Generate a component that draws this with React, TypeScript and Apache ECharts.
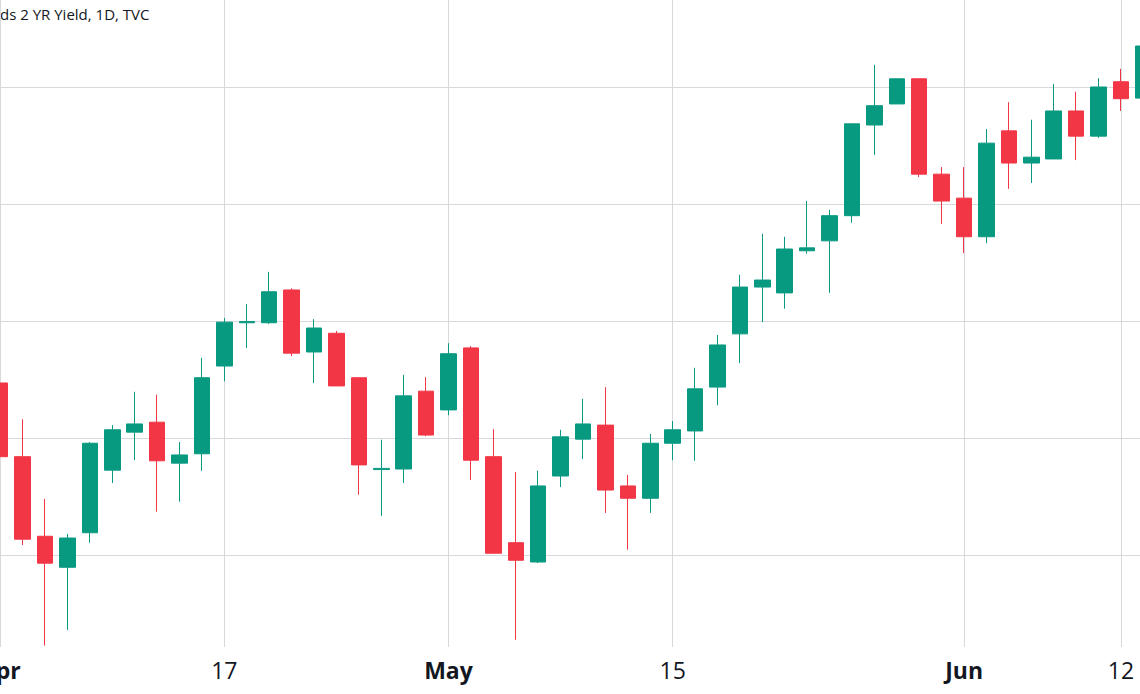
import React, { useEffect, useRef } from "react";
import * as echarts from "echarts";

const dates = [
  "2023-04-03", "2023-04-04", "2023-04-05", "2023-04-06", "2023-04-07",
  "2023-04-10", "2023-04-11", "2023-04-12", "2023-04-13", "2023-04-14",
  "2023-04-17", "2023-04-18", "2023-04-19", "2023-04-20", "2023-04-21",
  "2023-04-24", "2023-04-25", "2023-04-26", "2023-04-27", "2023-04-28",
  "2023-05-01", "2023-05-02", "2023-05-03", "2023-05-04", "2023-05-05",
  "2023-05-08", "2023-05-09", "2023-05-10", "2023-05-11", "2023-05-12",
  "2023-05-15", "2023-05-16", "2023-05-17", "2023-05-18", "2023-05-19",
  "2023-05-22", "2023-05-23", "2023-05-24", "2023-05-25", "2023-05-26",
  "2023-05-29", "2023-05-30", "2023-05-31", "2023-06-01", "2023-06-02",
  "2023-06-05", "2023-06-06", "2023-06-07", "2023-06-08", "2023-06-09",
  "2023-06-12", "2023-06-13",
];

const open = [
  4.094, 3.968, 3.832, 3.779, 3.838, 3.945, 4.010, 4.027, 3.957, 3.973,
  4.123, 4.197, 4.197, 4.253, 4.147, 4.179, 4.103, 3.946, 3.947, 4.080,
  4.048, 4.154, 3.968, 3.821, 3.788, 3.935, 3.998, 4.022, 3.918, 3.897,
  3.991, 4.012, 4.087, 4.178, 4.258, 4.248, 4.320, 4.337, 4.380, 4.535,
  4.571, 4.614, 4.451, 4.410, 4.344, 4.525, 4.470, 4.477, 4.559, 4.516,
  4.609, 4.581,
];

const close = [
  3.968, 3.827, 3.786, 3.829, 3.991, 4.014, 4.024, 3.961, 3.971, 4.103,
  4.198, 4.199, 4.250, 4.145, 4.188, 4.089, 3.954, 3.948, 4.072, 4.005,
  4.144, 3.962, 3.803, 3.791, 3.918, 4.002, 4.024, 3.911, 3.897, 3.991,
  4.014, 4.084, 4.159, 4.258, 4.270, 4.323, 4.325, 4.380, 4.537, 4.568,
  4.614, 4.451, 4.405, 4.344, 4.504, 4.470, 4.480, 4.559, 4.516, 4.600,
  4.580, 4.670,
];

const low = [
  3.962, 3.817, 3.645, 3.672, 3.821, 3.923, 3.962, 3.874, 3.891, 3.944,
  4.097, 4.154, 4.195, 4.140, 4.094, 4.089, 3.903, 3.867, 3.923, 4.003,
  4.039, 3.928, 3.803, 3.655, 3.786, 3.916, 3.964, 3.872, 3.809, 3.872,
  3.962, 3.961, 4.056, 4.128, 4.198, 4.221, 4.315, 4.248, 4.368, 4.484,
  4.571, 4.446, 4.366, 4.316, 4.333, 4.426, 4.436, 4.477, 4.475, 4.513,
  4.559, 4.578,
];

const high = [
  4.138, 4.032, 3.896, 3.836, 3.993, 4.022, 4.079, 4.074, 3.993, 4.137,
  4.205, 4.229, 4.284, 4.256, 4.203, 4.183, 4.104, 3.997, 4.108, 4.104,
  4.162, 4.157, 4.015, 3.942, 3.944, 4.014, 4.067, 4.087, 3.937, 4.007,
  4.029, 4.120, 4.176, 4.279, 4.349, 4.344, 4.405, 4.390, 4.537, 4.638,
  4.614, 4.614, 4.463, 4.463, 4.528, 4.574, 4.544, 4.605, 4.592, 4.615,
  4.631, 4.673,
];

const tickDates = ["2023-04-03", "2023-04-17", "2023-05-01", "2023-05-15", "2023-06-01", "2023-06-12"];
const tickLabels = ["Apr", "17", "May", "15", "Jun", "12"];

const yMin = 3.6427;
const yMax = 4.7487;

const title = "ds 2 YR Yield, 1D, TVC";

const UP = "#089981";
const DOWN = "#F23645";
const GRID = "#d8d9dd";
const TEXT = "#131722";
const FONT = '"Open Sans", "Noto Sans", sans-serif';

export default function App() {
  const ref = useRef<HTMLDivElement>(null);

  useEffect(() => {
    document.body.style.margin = "0";
    document.body.style.overflow = "hidden";
    const chart = echarts.init(ref.current as HTMLDivElement, null, { renderer: "svg" });
    const data = dates.map((_, i) => [open[i], close[i], low[i], high[i]]);
    const isTick = (_i: number, v: string) => tickDates.includes(v);

    chart.setOption({
      animation: false,
      backgroundColor: "#ffffff",
      textStyle: { fontFamily: FONT },
      grid: {
        left: 0.2,
        right: -3.4,
        top: 0,
        bottom: 47,
        containLabel: false,
        outerBoundsMode: "none",
      },
      xAxis: {
        type: "category",
        data: dates,
        boundaryGap: false,
        axisLine: { show: false },
        axisTick: { show: false },
        axisLabel: {
          interval: isTick,
          margin: 11,
          formatter: (v: string) => {
            const t = tickLabels[tickDates.indexOf(v)] ?? "";
            return /\d/.test(t) ? `{n|${t}}` : `{b|${t}}`;
          },
          rich: {
            n: { fontSize: 23, color: TEXT, fontFamily: FONT, fontWeight: "normal" },
            b: { fontSize: 23, color: TEXT, fontFamily: FONT, fontWeight: "bold" },
          },
        },
        splitLine: { show: true, interval: isTick, lineStyle: { color: GRID, width: 1 } },
      },
      yAxis: {
        type: "value",
        min: yMin,
        max: yMax,
        axisLine: { show: false },
        axisTick: { show: false },
        axisLabel: { show: false },
        splitLine: {
          show: true,
          showMinLine: false,
          showMaxLine: false,
          lineStyle: { color: GRID, width: 1 },
        },
      },
      graphic: [
        {
          type: "text",
          x: 0,
          y: 14,
          style: {
            text: title,
            align: "left",
            verticalAlign: "middle",
            fontSize: 15,
            fontFamily: FONT,
            fill: TEXT,
          },
        },
      ],
      series: [
        {
          type: "candlestick",
          data,
          barWidth: 16,
          clip: true,
          itemStyle: {
            color: UP,
            color0: DOWN,
            borderColor: UP,
            borderColor0: DOWN,
            borderWidth: 1,
          },
        },
      ],
    });

    return () => chart.dispose();
  }, []);

  return <div ref={ref} style={{ width: 1140, height: 694 }} />;
}
